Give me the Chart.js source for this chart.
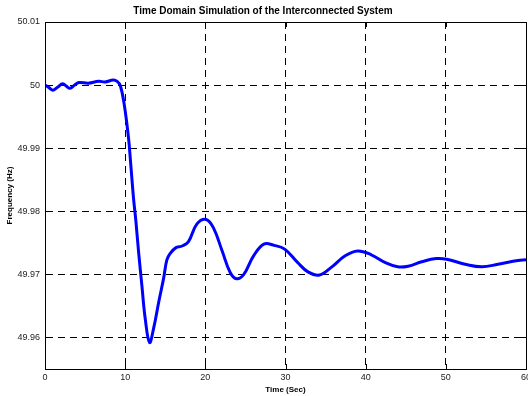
<!DOCTYPE html>
<html><head><meta charset="utf-8">
<script src="https://cdn.jsdelivr.net/npm/chart.js@4/dist/chart.umd.min.js"></script>
<style>html,body{margin:0;padding:0;background:#fff}#wrap{width:528px;height:396px}</style>
</head><body><div id="wrap"><canvas id="c" width="528" height="396"></canvas></div>
<script>
const timeSec = [0,0.5,1.0,1.6,2.2,2.7,3.1,3.7,4.25,5.4,6.7,7.5,8.5,9.0,9.4,9.875,10.41,10.7,11.04,11.34,11.67,12.08,12.5,13.04,13.54,14.2,14.8,15.2,15.6,16.3,17.1,17.9,18.96,20.1,21.0,22.1,23.1,23.9,24.8,26.0,27.3,28.6,29.9,31.5,32.8,34.25,35.7,37.4,39.0,40.7,42.4,44.0,45.3,47.0,48.8,50.1,52.4,54.5,56.5,59.0,60];
const freqHz = [50.0000,49.9996,49.9992,49.9997,50.0002,49.9998,49.9995,50.0000,50.0004,50.0003,50.0006,50.0005,50.0008,50.0006,49.9999,49.9970,49.9917,49.9874,49.9821,49.9784,49.9736,49.9683,49.9630,49.9592,49.9614,49.9657,49.9694,49.9723,49.9733,49.9742,49.9745,49.9752,49.9780,49.9787,49.9774,49.9737,49.9703,49.9693,49.9700,49.9729,49.9748,49.9746,49.9740,49.9719,49.9704,49.9699,49.9711,49.9729,49.9737,49.9731,49.9719,49.9712,49.9713,49.9720,49.9725,49.9724,49.9716,49.9712,49.9716,49.9722,49.9723];
const xTicks = [0,10,20,30,40,50,60];
const yTicks = [49.96,49.97,49.98,49.99,50,50.01];
const yTickLabels = ['49.96','49.97','49.98','49.99','50','50.01'];

const boxPlugin = {
  id:'box',
  afterDraw(chart){
    const a = chart.chartArea, ctx = chart.ctx;
    const xs = chart.scales.x, ys = chart.scales.y;
    ctx.save();
    ctx.strokeStyle = '#000'; ctx.lineWidth = 1; ctx.setLineDash([]);
    ctx.strokeRect(Math.round(a.left)+0.5, Math.round(a.top)+0.5, Math.round(a.right-a.left), Math.round(a.bottom-a.top));
    ctx.beginPath();
    xTicks.forEach(v=>{ const px = Math.round(xs.getPixelForValue(v))+0.5;
      ctx.moveTo(px,a.bottom); ctx.lineTo(px,a.bottom-5);
      ctx.moveTo(px,a.top); ctx.lineTo(px,a.top+5); });
    yTicks.forEach(v=>{ const py = Math.round(ys.getPixelForValue(v))+0.5;
      ctx.moveTo(a.left,py); ctx.lineTo(a.left+5,py);
      ctx.moveTo(a.right,py); ctx.lineTo(a.right-5,py); });
    ctx.stroke();
    ctx.restore();
  }
};

new Chart(document.getElementById('c'), {
  type:'line',
  data:{datasets:[{
    data: timeSec.map((t,i)=>({x:t,y:freqHz[i]})),
    borderColor:'#0000ff', borderWidth:3, pointRadius:0, fill:false,
    tension:0.4
  }]},
  options:{
    responsive:false, animation:false, devicePixelRatio:1,
    layout:{padding:{left:0,right:2,top:0,bottom:0}},
    plugins:{
      legend:{display:false}, tooltip:{enabled:false},
      title:{display:true, text:'Time Domain Simulation of the Interconnected System',
        color:'#000', font:{family:'Liberation Sans, Arial', size:10, weight:'bold'},
        padding:{top:5,bottom:5}}
    },
    scales:{
      x:{type:'linear', min:0, max:60,
        afterBuildTicks(s){ s.ticks = xTicks.map(v=>({value:v})); },
        afterFit(s){ s.height = 27; s.paddingRight = 0; s.paddingLeft = 0; },
        grid:{color:'#000', lineWidth:1, drawTicks:false},
        border:{display:true,color:'#000',width:1,dash:[7,5]},
        ticks:{color:'#222', padding:3, font:{family:'Liberation Sans, Arial', size:9}, maxRotation:0},
        title:{display:true, text:'Time (Sec)', color:'#000', padding:{top:0,bottom:1},
          font:{family:'Liberation Sans, Arial', size:8, weight:'bold'}}
      },
      y:{type:'linear', min:49.955, max:50.01,
        afterBuildTicks(s){ s.ticks = yTicks.map(v=>({value:v})); },
        afterFit(s){ s.width = 45; },
        grid:{color:'#000', lineWidth:1, drawTicks:false},
        border:{display:true,color:'#000',width:1,dash:[7,5]},
        ticks:{color:'#222', padding:5, font:{family:'Liberation Sans, Arial', size:9},
          callback(v){ const i = yTicks.findIndex(t=>Math.abs(t-v)<1e-9); return i>=0 ? yTickLabels[i] : ''; }},
        title:{display:true, text:'Frequency (Hz)', color:'#000', padding:{top:5,bottom:0},
          font:{family:'Liberation Sans, Arial', size:8, weight:'bold'}}
      }
    }
  },
  plugins:[boxPlugin]
});
</script></body></html>
